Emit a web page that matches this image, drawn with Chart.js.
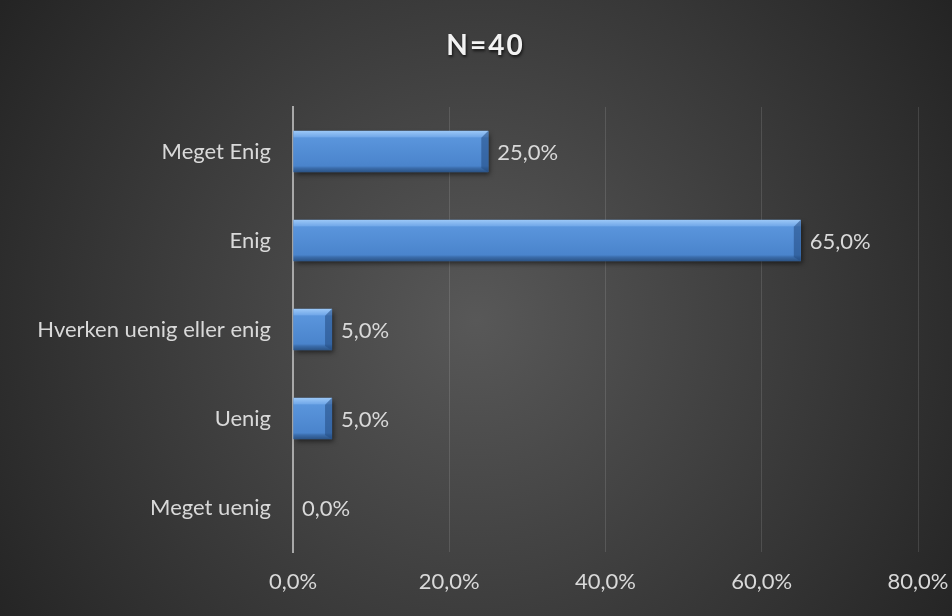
<!DOCTYPE html>
<html>
<head>
<meta charset="utf-8">
<script src="https://cdn.jsdelivr.net/npm/chart.js@4.4.1/dist/chart.umd.min.js"></script>
<style>
  html, body { margin: 0; padding: 0; background: #2b2b2b; }
  #wrap { width: 952px; height: 616px; position: relative; }
</style>
</head>
<body>
<div id="wrap"><canvas id="survey-chart"></canvas></div>
<script>
const categories = ['Meget Enig', 'Enig', 'Hverken uenig eller enig', 'Uenig', 'Meget uenig'];
const shares = [25.0, 65.0, 5.0, 5.0, 0.0];
const xTicks = [0, 20, 40, 60, 80];
const chartTitle = 'N=40';

const FONT = 'Lato, "Open Sans", sans-serif';
const pct = v => v.toFixed(1).replace('.', ',') + '%';

// dark radial background + title drawn with a bit of letter spacing
const backgroundPlugin = {
  id: 'darkBackground',
  beforeDraw(chart) {
    const { ctx, width, height } = chart;
    const g = ctx.createRadialGradient(width * 0.5, height * 0.52, 0, width * 0.5, height * 0.52, width * 0.6);
    g.addColorStop(0, '#585858');
    g.addColorStop(1, '#242424');
    ctx.save();
    ctx.fillStyle = g;
    ctx.fillRect(0, 0, width, height);
    ctx.font = 'bold 28px ' + FONT;
    ctx.letterSpacing = '2px';
    ctx.textAlign = 'center';
    ctx.textBaseline = 'middle';
    ctx.shadowColor = 'rgba(0,0,0,0.7)';
    ctx.shadowOffsetX = 1;
    ctx.shadowOffsetY = 2;
    ctx.shadowBlur = 3;
    ctx.fillStyle = '#f2f2f2';
    ctx.fillText(chartTitle, width * 0.51, 46);
    ctx.restore();
  }
};

// bevelled bars + value labels
const bevelPlugin = {
  id: 'bevel',
  afterDatasetsDraw(chart) {
    const { ctx } = chart;
    const meta = chart.getDatasetMeta(0);
    meta.data.forEach((bar, i) => {
      const { x, y, base, height } = bar.getProps(['x', 'y', 'base', 'height'], true);
      const top = y - height / 2;
      const w = x - base;
      ctx.save();
      if (w > 1) {
        // drop shadow
        ctx.shadowColor = 'rgba(0,0,0,0.55)';
        ctx.shadowOffsetX = 2;
        ctx.shadowOffsetY = 3;
        ctx.shadowBlur = 5;
        ctx.fillStyle = '#4a85cd';
        ctx.fillRect(base, top, w, height);
        ctx.shadowColor = 'transparent';

        const g = ctx.createLinearGradient(0, top, 0, top + height);
        g.addColorStop(0, '#9cc8f7');
        g.addColorStop(0.14, '#74aaea');
        g.addColorStop(0.17, '#5a95dc');
        g.addColorStop(0.85, '#4a84cc');
        g.addColorStop(0.9, '#3b6dac');
        g.addColorStop(1, '#2b5385');
        ctx.fillStyle = g;
        ctx.fillRect(base, top, w, height);

        // darker bevel at the bar end
        const e = Math.min(7, w / 3);
        ctx.fillStyle = 'rgba(35,75,130,0.55)';
        ctx.beginPath();
        ctx.moveTo(x - e, top + e);
        ctx.lineTo(x, top);
        ctx.lineTo(x, top + height);
        ctx.lineTo(x - e, top + height - e * 0.6);
        ctx.closePath();
        ctx.fill();
      }
      ctx.fillStyle = '#d9d9d9';
      ctx.font = '22px ' + FONT;
      ctx.textBaseline = 'middle';
      ctx.textAlign = 'left';
      ctx.fillText(pct(shares[i]), x + 9, y + 1);
      ctx.restore();
    });
  }
};

const config = {
  type: 'bar',
  data: {
    labels: categories,
    datasets: [{
      data: shares,
      backgroundColor: 'rgba(0,0,0,0)',
      borderWidth: 0,
      barPercentage: 1,
      categoryPercentage: 0.464
    }]
  },
  options: {
    indexAxis: 'y',
    responsive: true,
    maintainAspectRatio: false,
    animation: false,
    layout: { padding: { left: 0, right: 34, top: 107, bottom: 0 } },
    plugins: {
      legend: { display: false },
      tooltip: { enabled: false },
      title: { display: false }
    },
    scales: {
      x: {
        min: 0,
        max: 80,
        afterBuildTicks(axis) { axis.ticks = xTicks.map(v => ({ value: v })); },
        afterFit(axis) {
          axis.height = 64;
          axis.paddingLeft = 0;
          axis.paddingRight = 0;
        },
        grid: { color: 'rgba(255,255,255,0.12)', lineWidth: 1, drawTicks: false },
        border: { display: false },
        ticks: {
          color: '#d9d9d9',
          padding: 17,
          maxRotation: 0,
          font: { family: FONT, size: 22 },
          callback: v => pct(v)
        }
      },
      y: {
        afterFit(axis) { axis.width = 293; },
        grid: { display: false, drawTicks: false },
        border: { display: true, color: '#a8a8a8', width: 2 },
        ticks: {
          color: '#d9d9d9',
          padding: 22,
          font: { family: FONT, size: 22 }
        }
      }
    }
  },
  plugins: [backgroundPlugin, bevelPlugin]
};

const ctx = document.getElementById('survey-chart').getContext('2d');
const chart = new Chart(ctx, config);
</script>
</body>
</html>
